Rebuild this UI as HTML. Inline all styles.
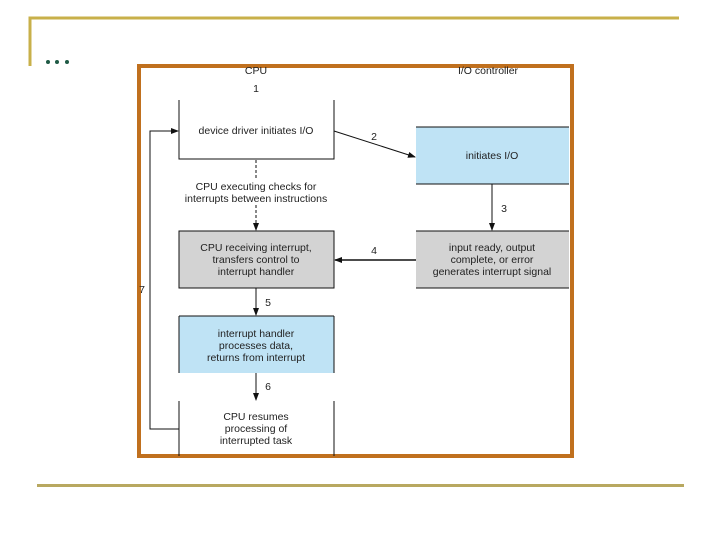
<!DOCTYPE html>
<html><head><style>
html,body{margin:0;padding:0;background:#fff;}
svg{display:block;}
text{font-family:"Liberation Sans",sans-serif;font-size:10.5px;fill:#222;}
</style></head><body>
<svg width="720" height="540" viewBox="0 0 720 540">
<defs><marker id="a" markerWidth="8" markerHeight="8" refX="7" refY="4" orient="auto" markerUnits="userSpaceOnUse"><path d="M0,1 L8,4 L0,7 z" fill="#111"/></marker></defs>
<polyline points="30,66 30,18 679,18" fill="none" stroke="#c8b04a" stroke-width="3"/>
<line x1="37" y1="485.5" x2="684" y2="485.5" stroke="#b8a860" stroke-width="3"/>
<circle cx="48" cy="62" r="2" fill="#1f5a45"/><circle cx="57" cy="62" r="2" fill="#1f5a45"/><circle cx="67" cy="62" r="2" fill="#1f5a45"/>
<rect x="139" y="66" width="433" height="390" fill="#fff" stroke="#c0701e" stroke-width="4"/>
<text x="256" y="74" text-anchor="middle">CPU</text>
<text x="488" y="74" text-anchor="middle">I/O controller</text>
<text x="256" y="92" text-anchor="middle">1</text>
<polyline points="179,100 179,159 334,159 334,100" fill="none" stroke="#111" stroke-width="1"/>
<text x="256" y="134" text-anchor="middle">device driver initiates I/O</text>
<rect x="416" y="127" width="153" height="57" fill="#bfe3f5"/>
<line x1="416" y1="127" x2="569" y2="127" stroke="#111"/><line x1="416" y1="184" x2="569" y2="184" stroke="#111"/>
<text x="492" y="159" text-anchor="middle">initiates I/O</text>
<line x1="334" y1="131" x2="415" y2="157" stroke="#111" marker-end="url(#a)"/>
<text x="374" y="140" text-anchor="middle">2</text>
<line x1="256" y1="160" x2="256" y2="179" stroke="#111" stroke-dasharray="3,2"/>
<text x="256" y="190" text-anchor="middle">CPU executing checks for</text>
<text x="256" y="202" text-anchor="middle">interrupts between instructions</text>
<line x1="256" y1="205" x2="256" y2="230" stroke="#111" stroke-dasharray="3,2" marker-end="url(#a)"/>
<line x1="492" y1="184" x2="492" y2="230" stroke="#111" marker-end="url(#a)"/>
<text x="504" y="212" text-anchor="middle">3</text>
<rect x="179" y="231" width="155" height="57" fill="#d3d3d3" stroke="#111"/>
<text x="256" y="251" text-anchor="middle">CPU receiving interrupt,</text>
<text x="256" y="263" text-anchor="middle">transfers control to</text>
<text x="256" y="275" text-anchor="middle">interrupt handler</text>
<rect x="416" y="231" width="153" height="57" fill="#d3d3d3"/>
<line x1="416" y1="231" x2="569" y2="231" stroke="#111"/><line x1="416" y1="288" x2="569" y2="288" stroke="#111"/>
<text x="492" y="251" text-anchor="middle">input ready, output</text>
<text x="492" y="263" text-anchor="middle">complete, or error</text>
<text x="492" y="275" text-anchor="middle">generates interrupt signal</text>
<line x1="416" y1="260" x2="335" y2="260" stroke="#111" stroke-width="1.5" marker-end="url(#a)"/>
<text x="374" y="254" text-anchor="middle">4</text>
<line x1="256" y1="288" x2="256" y2="315" stroke="#111" marker-end="url(#a)"/>
<text x="268" y="306" text-anchor="middle">5</text>
<rect x="179" y="316" width="155" height="57" fill="#bfe3f5"/>
<line x1="179" y1="316" x2="334" y2="316" stroke="#111"/><line x1="179" y1="316" x2="179" y2="373" stroke="#111"/><line x1="334" y1="316" x2="334" y2="373" stroke="#111"/>
<text x="256" y="337" text-anchor="middle">interrupt handler</text>
<text x="256" y="349" text-anchor="middle">processes data,</text>
<text x="256" y="361" text-anchor="middle">returns from interrupt</text>
<line x1="256" y1="373" x2="256" y2="400" stroke="#111" marker-end="url(#a)"/>
<text x="268" y="390" text-anchor="middle">6</text>
<line x1="179" y1="401" x2="179" y2="456" stroke="#111"/><line x1="334" y1="401" x2="334" y2="456" stroke="#111"/>
<text x="256" y="420" text-anchor="middle">CPU resumes</text>
<text x="256" y="432" text-anchor="middle">processing of</text>
<text x="256" y="444" text-anchor="middle">interrupted task</text>
<polyline points="179,429 150,429 150,131 178,131" fill="none" stroke="#111" marker-end="url(#a)"/>
<text x="142" y="293" text-anchor="middle">7</text>
</svg>
</body></html>
